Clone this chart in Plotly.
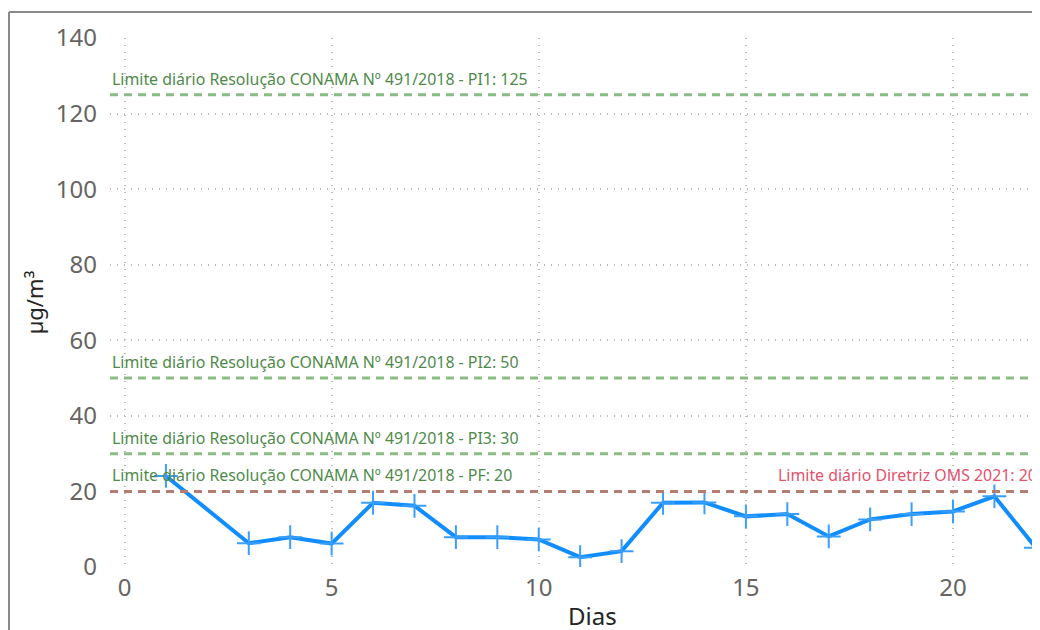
import plotly.graph_objects as go

# daily concentration (µg/m³)
dias = [1, 3, 4, 5, 6, 7, 8, 9, 10, 11, 12, 13, 14, 15, 16, 17, 18, 19, 20, 21, 22]
valores = [24.1, 6.3, 7.9, 6.2, 17.0, 16.2, 7.9, 7.9, 7.3, 2.6, 4.2, 17.0, 17.1, 13.4, 14.0, 8.1, 12.6, 14.0, 14.7, 18.7, 5.1]

limites_conama = [125, 50, 30, 20]
rotulos_conama = ["PI1", "PI2", "PI3", "PF"]
limite_oms = 20

x_ticks = [0, 5, 10, 15, 20]
y_ticks = [0, 20, 40, 60, 80, 100, 120, 140]

FONT = "Segoe UI, Noto Sans, sans-serif"
BLUE = "#118DFF"
GREEN_LINE = "#8DBB87"
GREEN_TEXT = "#4E8A4A"
RED_TEXT = "#E5506A"
BROWN_LINE = "#B67C72"
GRID = "#BDBBB9"

fig = go.Figure()

fig.add_trace(
    go.Scatter(
        x=dias,
        y=valores,
        mode="lines+markers",
        line=dict(color=BLUE, width=4),
        marker=dict(symbol="cross-thin", size=17, line=dict(color="#3A9EFF", width=2)),
        showlegend=False,
    )
)

for valor, rotulo in zip(limites_conama, rotulos_conama):
    cor = BROWN_LINE if valor == limite_oms else GREEN_LINE
    fig.add_hline(y=valor, line=dict(color=cor, width=3, dash="8px,6px"))
    fig.add_annotation(
        x=-0.35, y=valor, xref="x", yref="y",
        text=f"Limite diário Resolução CONAMA Nº 491/2018 - {rotulo}: {valor}",
        showarrow=False, xanchor="left", yanchor="bottom", yshift=3,
        font=dict(family=FONT, size=15.9, color=GREEN_TEXT),
    )

fig.add_annotation(
    x=15.72, y=limite_oms, xref="x", yref="y",
    text=f"Limite diário Diretriz OMS 2021: {limite_oms}",
    showarrow=False, xanchor="left", yanchor="bottom", yshift=3,
    font=dict(family=FONT, size=15.9, color=RED_TEXT),
)

fig.add_annotation(
    x=11.3, y=-0.056, xref="x", yref="paper",
    text="Dias", showarrow=False, xanchor="center", yanchor="top",
    font=dict(family=FONT, size=24, color="#252423"),
)

# card border (left and top edges)
fig.add_shape(type="line", xref="paper", yref="paper",
              x0=-0.1086, x1=-0.1086, y0=-0.2, y1=1.049,
              line=dict(color="#8A8A8A", width=2))
fig.add_shape(type="line", xref="paper", yref="paper",
              x0=-0.1086, x1=1.1, y0=1.049, y1=1.049,
              line=dict(color="#8A8A8A", width=2))

fig.update_xaxes(
    range=[-0.35, 22.1],
    tickvals=x_ticks,
    showgrid=True, gridcolor=GRID, griddash="1px,6px", gridwidth=1.5,
    zeroline=False, showline=False,
    tickfont=dict(family=FONT, size=24, color="#666462"),
    ticklabelstandoff=4,
)
fig.update_yaxes(
    range=[0, 140],
    tickvals=y_ticks,
    showgrid=True, gridcolor=GRID, griddash="1px,6px", gridwidth=1.5,
    zeroline=False, showline=False,
    tickfont=dict(family=FONT, size=24, color="#666462"),
    ticklabelstandoff=12,
    title=dict(text="µg/m³", font=dict(family=FONT, size=22, color="#252423"), standoff=6),
)

fig.update_layout(
    width=1032,
    height=622,
    margin=dict(l=102, r=0, t=30, b=63),
    plot_bgcolor="white",
    paper_bgcolor="white",
)

fig.write_html("out.html")
